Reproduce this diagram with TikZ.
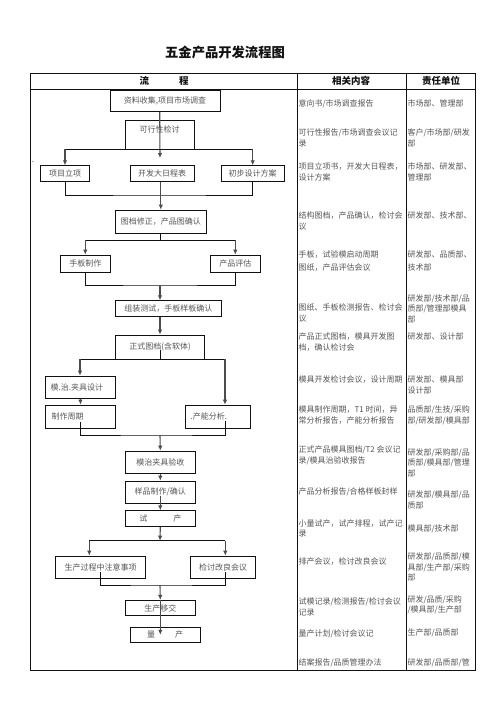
\documentclass[tikz,border=0pt]{standalone}
\usepackage{fontspec}
\setmainfont{Noto Sans CJK SC}
\usetikzlibrary{arrows.meta}

\definecolor{hwink}{HTML}{111111}
\definecolor{hwmute}{HTML}{555555}

\begin{document}
\begin{tikzpicture}[
  x=1pt, y=-1pt,
  font=\fontsize{8}{10.6}\selectfont,
  flowbox/.style={draw=hwink, line width=0.8pt, inner sep=0pt, text=hwmute},
  cell/.style={anchor=north west, align=left, inner sep=0pt, text=hwmute},
  head/.style={font=\fontsize{9.5}{11}\selectfont\bfseries, text=hwink},
  link/.style={draw=hwink, line width=0.8pt},
  arr/.style={draw=hwink!75, line width=1.1pt, -{Latex[length=5pt,width=4.5pt]}},
]
\useasboundingbox (0,0) rectangle (496,702);

% title and table frame
\node[font=\fontsize{13.3}{15}\selectfont\bfseries, text=hwink] (title)
  at (225,52.5) {五金产品开发流程图};
\draw[hwink, line width=1pt] (30,73.3) rectangle (475,670);
\draw[hwink, line width=1pt] (30,89) -- (475,89);
\draw[hwink, line width=1pt] (297,73.3) -- (297,670);
\draw[hwink, line width=1pt] (406.7,73.3) -- (406.7,670);

\node[head] (hflow) at (164,81) {流\hspace{30pt}程};
\node[head] (hcont) at (351,81) {相关内容};
\node[head] (hresp) at (441,81) {责任单位};
\node[font=\fontsize{6}{6}\selectfont, text=hwink] (dash) at (33,162.5) {-};

% flow boxes
\node[flowbox, minimum width=110pt, minimum height=21.4pt] (zl)
  at (165,101) {资料收集,项目市场调查};
\node[flowbox, minimum width=69pt, minimum height=29pt, text depth=10pt] (kx)
  at (159.7,134.5) {可行性检讨};
\node[flowbox, minimum width=48.6pt, minimum height=16pt] (xm)
  at (65,173.7) {项目立项};
\node[flowbox, minimum width=64pt, minimum height=16pt] (rc)
  at (162,173.7) {开发大日程表};
\node[flowbox, minimum width=63.3pt, minimum height=16pt] (cb)
  at (252.7,173.7) {初步设计方案};
\node[flowbox, minimum width=90.3pt, minimum height=23.3pt] (tx)
  at (160.8,221.7) {图档修正，产品图确认};
\node[flowbox, minimum width=50pt, minimum height=17.3pt] (sb)
  at (85.3,263.7) {手板制作};
\node[flowbox, minimum width=50pt, minimum height=17.3pt] (pg)
  at (235.3,263.7) {产品评估};
\node[flowbox, minimum width=105.3pt, minimum height=16pt] (zz)
  at (168.3,308.7) {组装测试，手板样板确认};
\node[flowbox, minimum width=88.6pt, minimum height=24pt] (zs)
  at (160,347) {正式图档(含软体)};
\node[flowbox, inner xsep=5pt, text width=59.3pt, align=left, minimum height=22.3pt] (mj)
  at (80.3,387.2) {模.治.夹具设计};
\node[flowbox, inner xsep=6pt, text width=58pt, align=left, minimum height=23.3pt] (zq)
  at (80.7,416.7) {制作周期};
\node[flowbox, inner xsep=5.4pt, text width=54.2pt, align=left, minimum height=23.3pt] (cn)
  at (217.8,416.7) {.产能分析.};
\node[flowbox, minimum width=70pt, minimum height=22.3pt] (ys)
  at (160.3,462.2) {模治夹具验收};
\node[flowbox, minimum width=70pt, minimum height=22.3pt] (yp)
  at (160.3,492.2) {样品制作/确认};
\node[flowbox, minimum width=70pt, minimum height=16pt] (sc)
  at (160.3,518.7) {试\hspace{26pt}产};
\node[flowbox, minimum width=90.4pt, minimum height=22.3pt] (zy)
  at (100.5,567.2) {生产过程中注意事项};
\node[flowbox, minimum width=64.6pt, minimum height=22.3pt] (jt)
  at (223,567.2) {检讨改良会议};
\node[flowbox, minimum width=70pt, minimum height=15.4pt] (yj)
  at (160.3,608) {生产移交};
\node[flowbox, minimum width=70.3pt, minimum height=15pt] (lc)
  at (165.2,634.8) {量\hspace{20pt}产};

% connectors
\coordinate (j1) at (160,158);
\draw[arr] (kx.north |- zl.south) -- (j1);
\draw[link] (xm.north |- kx.south) -- (cb.north |- kx.south);
\draw[arr] (xm.north |- kx.south) -- (xm.north);
\draw[arr] (cb.north |- kx.south) -- (cb.north);

\coordinate (j2) at (160,195);
\draw[link] (xm.south) |- (j2) -| (cb.south);
\draw[arr] (tx.north |- rc.south) -- (tx.north);

\coordinate (j3) at (160,240);
\draw[link] (j3 |- tx.south) -- (j3);
\draw[link] (sb.north |- j3) -- (pg.north |- j3);
\draw[arr] (sb.north |- j3) -- (sb.north);
\draw[arr] (pg.north |- j3) -- (pg.north);

\coordinate (j4) at (160,285);
\draw[link] (sb.south) |- (j4) -| (pg.south);
\draw[arr] (j4) -- (j4 |- zz.north);
\draw[arr] (zs.north |- zz.south) -- (zs.north);

\coordinate (j5l) at (80,359);
\coordinate (j5r) at (225,359);
\draw[link] ([yshift=9pt]zs.south) -- (zs.south);
\draw[link] (j5l) -- (j5r);
\draw[arr] (j5l) -- (j5l |- mj.north);
\draw[arr] (j5r) -- (j5r |- cn.north);
\draw[arr] (mj.south) -- (zq.north);

\coordinate (j6) at (160,435);
\coordinate (j6r) at (225,421);
\draw[link] ([yshift=7pt]zq.south) |- (j6) -| (j6r);
\draw[arr] (j6) -- (ys.north);
\draw[arr] (ys.south) -- (yp.north);
\draw[arr] ([yshift=8pt]yp.south) -- (sc.north);

\coordinate (j7) at (160,540.7);
\coordinate (j7l) at (89.3,540.7);
\coordinate (j7r) at (225.3,540.7);
\draw[arr] (sc.south) -- (j7);
\draw[link] (j7l) -- (j7r);
\draw[arr] (j7l) -- (j7l |- zy.north);
\draw[arr] (j7r) -- (j7r |- jt.north);

\coordinate (j8) at (160,585);
\coordinate (j8l) at (100.3,572);
\coordinate (j8r) at (225.3,572);
\draw[link] (j8l) |- (j8) -| (j8r);
\draw[arr] (j8) -- (yj.north);
\draw[arr] (yj.north) -- (yj.north |- lc.center);

% related content column
\node[cell] (c1) at (298.3,99.3) {意向书/市场调查报告};
\node[cell] (c2) at (298.3,128.7) {可行性报告/市场调查会议记\\录};
\node[cell] (c3) at (298.3,162.7) {项目立项书，开发大日程表，\\设计方案};
\node[cell] (c4) at (298.3,211.7) {结构图档，产品确认，检讨会\\议};
\node[cell] (c5) at (298.3,251) {手板，试验模启动周期\\[2pt]图纸，产品评估会议};
\node[cell] (c6) at (298.3,303.7) {图纸、手板检测报告、检讨会\\议};
\node[cell] (c7) at (298.3,332.7) {产品正式图档，模具开发图\\档，确认检讨会};
\node[cell] (c8) at (298.3,376) {模具开发检讨会议，设计周期};
\node[cell] (c9) at (298.3,406) {模具制作周期，T1 时间，异\\常分析报告，产能分析报告};
\node[cell] (c10) at (298.3,446) {正式产品模具图档/T2 会议记\\录/模具治验收报告};
\node[cell] (c11) at (298.3,487.7) {产品分析报告/合格样板封样};
\node[cell] (c12) at (298.3,519.3) {小量试产，试产排程，试产记\\录};
\node[cell] (c13) at (298.3,557.7) {排产会议，检讨改良会议};
\node[cell] (c14) at (298.3,597.7) {试模记录/检测报告/检讨会议\\记录};
\node[cell] (c15) at (298.3,629.3) {量产计划/检讨会议记};
\node[cell] (c16) at (298.3,658.7) {结案报告/品质管理办法};

% responsible unit column
\node[cell] (r1) at (407.3,99.3) {市场部、管理部};
\node[cell] (r2) at (407.3,128.7) {客户/市场部/研发\\部};
\node[cell] (r3) at (407.3,162.7) {市场部、研发部、\\管理部};
\node[cell] (r4) at (407.3,211.7) {研发部、技术部、};
\node[cell] (r5) at (407.3,251) {研发部、品质部、\\[2pt]技术部};
\node[cell] (r6) at (407.3,294.3) {研发部/技术部/品\\质部/管理部模具\\部};
\node[cell] (r7) at (407.3,332.7) {研发部、设计部};
\node[cell] (r8) at (407.3,376) {研发部、模具部\\设计部};
\node[cell] (r9) at (407.3,406) {品质部/生技/采购\\部/研发部/模具部};
\node[cell] (r10) at (407.3,448.3) {研发部/采购部/品\\质部/模具部/管理\\部};
\node[cell] (r11) at (407.3,491) {研发部/模具部/品\\质部};
\node[cell] (r12) at (407.3,524.3) {模具部/技术部};
\node[cell] (r13) at (407.3,552.7) {研发部/品质部/模\\具部/生产部/采购\\部};
\node[cell] (r14) at (407.3,595.3) {研发/品质/采购\\/模具部/生产部};
\node[cell] (r15) at (407.3,628.7) {生产部/品质部};
\node[cell] (r16) at (407.3,658.7) {研发部/品质部/管};

\end{tikzpicture}
\end{document}
